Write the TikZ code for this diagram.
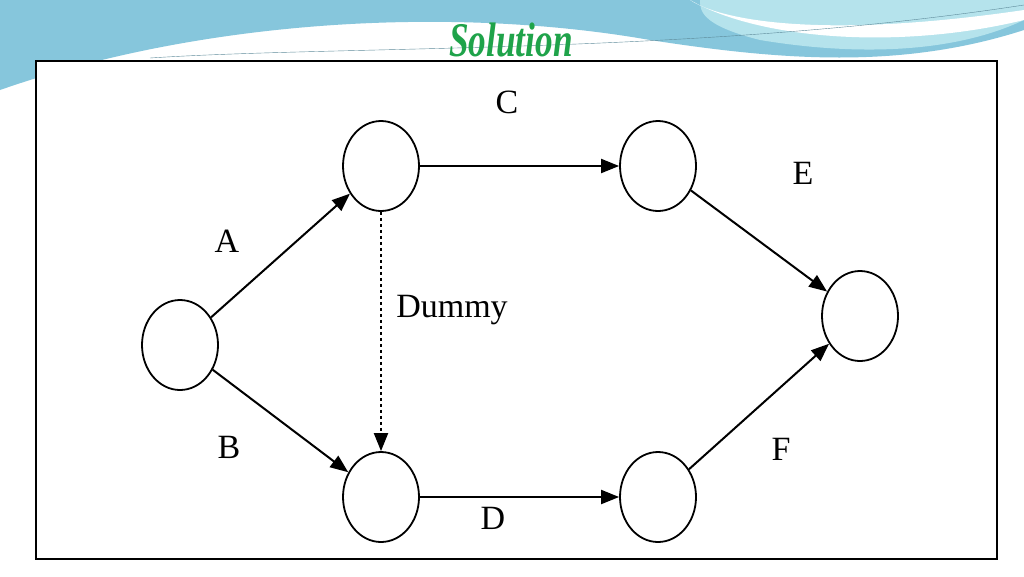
\documentclass[tikz,border=0pt]{standalone}
\usepackage{fontspec}
\setmainfont{Liberation Serif}
\usetikzlibrary{arrows.meta,shapes.geometric}
\definecolor{sky}{HTML}{86C6DC}
\definecolor{skyl}{HTML}{B5E3EC}
\definecolor{ttl}{HTML}{1FA34A}
\begin{document}
\begin{tikzpicture}[x=1pt,y=-1pt,
  ev/.style={draw,line width=1.8pt,ellipse,minimum width=76pt,minimum height=90pt,inner sep=0pt},
  act/.style={line width=2pt,-{Triangle[length=18pt,width=14pt]}},
  lbl/.style={font=\fontsize{34}{34}\selectfont}]
\useasboundingbox (0,0) rectangle (1024,576);
\fill[white] (0,0) rectangle (1024,576);
\fill[sky] (0,0) -- (1024,0) -- (1024,30) .. controls (900,70) and (780,60) .. (650,40) .. controls (450,5) and (200,20) .. (0,90) -- cycle;
\fill[skyl] (700,0) -- (1024,0) -- (1024,20) .. controls (950,55) and (850,55) .. (760,40) .. controls (700,25) and (700,10) .. (700,0) -- cycle;
\fill[white] (690,0) .. controls (720,20) and (820,40) .. (1024,10) -- (1024,20) .. controls (900,50) and (760,40) .. (690,0) -- cycle;
\draw[sky!70!black,line width=0.4pt] (150,58) .. controls (350,45) and (700,55) .. (1024,5);
\node[font=\bfseries\itshape\fontsize{44}{44}\selectfont,text=ttl] (title) at (511,40) {\scalebox{0.8}[1.1]{Solution}};
\draw[line width=2.5pt,fill=white] (36,61) rectangle (997,559);
\node[ev] (n1) at (180,345) {};
\node[ev] (n2) at (381,166) {};
\node[ev] (n3) at (381,497) {};
\node[ev] (n4) at (658,166) {};
\node[ev] (n5) at (658,497) {};
\node[ev] (n6) at (860,316) {};
\draw[act] (n1) -- (n2);
\draw[act] (n1) -- (n3);
\draw[act] (n2) -- (n4);
\draw[act] (n3) -- (n5);
\draw[act] (n4) -- (n6);
\draw[act] (n5) -- (n6);
\draw[act,dashed] (n2) -- (n3);
\node[lbl] (lc) at (507,102) {C};
\node[lbl] (la) at (227,241) {A};
\node[lbl] (ldum) at (452,310) {Dummy};
\node[lbl] (lb) at (229,447) {B};
\node[lbl] (le) at (803,173) {E};
\node[lbl] (ld) at (493,518) {D};
\node[lbl] (lf) at (781,449) {F};
\end{tikzpicture}
\end{document}
